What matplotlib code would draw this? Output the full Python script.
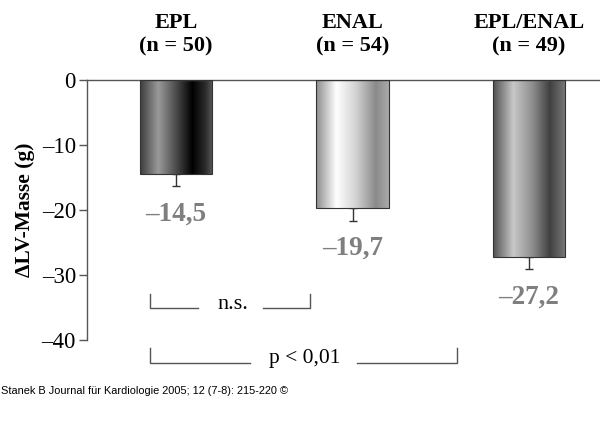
import matplotlib
matplotlib.use("Agg")
import matplotlib.pyplot as plt
import numpy as np
from matplotlib.colors import LinearSegmentedColormap

groups = ["EPL", "ENAL", "EPL/ENAL"]
n_values = [50, 54, 49]
values = [-14.5, -19.7, -27.2]
errors = [1.8, 2.0, 1.9]
yticks = [0, -10, -20, -30, -40]
ytick_labels = ["0", "–10", "–20", "–30", "–40"]
ylabel = "ΔLV-Masse (g)"
caption = "Stanek B Journal für Kardiologie 2005; 12 (7-8): 215-220 ©"

gradients = [
    [(0, '#3c3c3c'), (0.25, '#9a9a9a'), (0.5, '#4a4a4a'), (0.72, '#000000'), (0.9, '#2c2c2c'), (1, '#5a5a5a')],
    [(0, '#8c8c8c'), (0.28, '#ffffff'), (0.55, '#d2d2d2'), (0.82, '#8a8a8a'), (1, '#aaaaaa')],
    [(0, '#505050'), (0.28, '#c8c8c8'), (0.55, '#8c8c8c'), (0.78, '#404040'), (1, '#7a7a7a')],
]

serif = 'Liberation Serif'
fig = plt.figure(figsize=(6, 4.41), dpi=100)
ax = fig.add_axes([87/600, 1-340/441, 1-87/600, 260/441])

x = np.arange(len(groups))
width = 0.41
bars = ax.bar(x, values, width=width, color='none', edgecolor='#333333', linewidth=0.8, zorder=3)
for b, grad in zip(bars, gradients):
    cmap = LinearSegmentedColormap.from_list('g', grad)
    bx, by = b.get_x(), b.get_y()
    bw, bh = b.get_width(), b.get_height()
    img = ax.imshow(np.linspace(0, 1, 256).reshape(1, -1), cmap=cmap, aspect='auto',
                    extent=[bx, bx + bw, by, by + bh], zorder=2, interpolation='bilinear')
    img.set_clip_path(b)

ax.errorbar(x, values, yerr=[errors, [0]*len(errors)], fmt='none', ecolor='#333333',
            elinewidth=1.0, capsize=3, capthick=1.0, zorder=1)

for xi, v in zip(x, values):
    ax.annotate(f"–{abs(v):.1f}".replace('.', ','), xy=(xi, v), xytext=(0, -29),
                textcoords='offset points', ha='center', va='center', fontsize=19.5,
                fontweight='bold', color='#7f7f7f', family=serif, annotation_clip=False)

for xi, g, n in zip(x, groups, n_values):
    ax.text(xi, 1.173, f"{g}\n(n = {n})", transform=ax.get_xaxis_transform(),
            ha='center', va='center', fontsize=16, fontweight='bold', family=serif,
            linespacing=1.25)

ax.set_xlim(-0.504, 2.402)
ax.set_ylim(-40, 0)
ax.set_yticks(yticks)
ax.set_yticklabels(ytick_labels, family=serif, fontsize=16.5)
ax.set_xticks([])
ax.tick_params(axis='y', direction='out', length=6, width=1, color='#555555', pad=2)
for s in ['right', 'bottom']:
    ax.spines[s].set_visible(False)
for s in ['left', 'top']:
    ax.spines[s].set_color('#555555')
    ax.spines[s].set_linewidth(1.0)
ax.set_ylabel(ylabel, family=serif, fontweight='bold', fontsize=15.5, labelpad=5)

lc = '#555555'
# n.s. bracket
ax.plot([-0.147, -0.147, 0.125], [-32.9, -35.1, -35.1], color=lc, lw=1, clip_on=False)
ax.plot([0.493, 0.759, 0.759], [-35.1, -35.1, -32.9], color=lc, lw=1, clip_on=False)
ax.text(0.323, -34.5, "n.s.", ha='center', va='center', fontsize=16, family=serif, clip_on=False)
# p bracket
ax.plot([-0.147, -0.147, 0.419], [-41.2, -43.5, -43.5], color=lc, lw=1, clip_on=False)
ax.plot([1.025, 1.592, 1.592], [-43.5, -43.5, -41.2], color=lc, lw=1, clip_on=False)
ax.text(0.731, -42.8, "p < 0,01", ha='center', va='center', fontsize=15.5, family=serif, clip_on=False)

fig.text(0.002, 1-391/441, caption, ha='left', va='center', fontsize=7.9, family='Liberation Sans')

fig.savefig("out.png", dpi=100, facecolor='white')
